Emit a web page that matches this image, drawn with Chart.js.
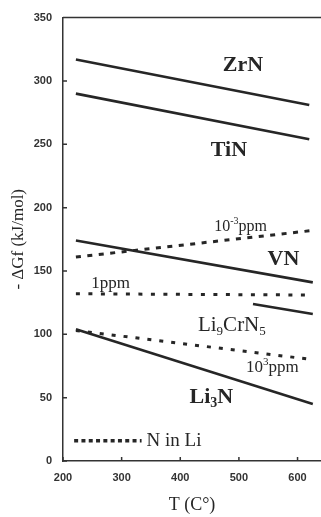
<!DOCTYPE html>
<html>
<head>
<meta charset="utf-8">
<script src="https://cdn.jsdelivr.net/npm/chart.js@4/dist/chart.umd.min.js"></script>
<style>
  html, body { margin: 0; padding: 0; background: #fff; }
  canvas { display: block; }
</style>
</head>
<body>
<canvas id="chart" width="321" height="517"></canvas>
<script>
// temperatures (C) at line ends
const tLong = [222, 626];
const tShort = [222, 620];
const tLi9CrN5 = [524, 626];
const tLegend = [219, 334];

// -dGf values (kJ/mol)
const zrN = [317, 281];
const tiN = [290, 254];
const vN = [174, 141];
const li9CrN5 = [124, 116];
const li3N = [104, 45];
const ppmMinus3 = [161, 182];
const ppm1 = [132, 131];
const ppm1000 = [103, 80];
const legendKey = [16, 16];

const xTicks = [200, 300, 400, 500, 600];
const yTicks = [0, 50, 100, 150, 200, 250, 300, 350];

const ink = "#262626";

function pts(xs, ys) {
  return xs.map((x, i) => ({ x, y: ys[i] }));
}

function solid(xs, ys) {
  return { data: pts(xs, ys), borderColor: ink, borderWidth: 2.6 };
}

function dashed(xs, ys, dash, width) {
  return { data: pts(xs, ys), borderColor: ink, borderWidth: width, borderDash: dash };
}

// text labels: [T, value, parts, size, bold]
const labels = [
  [507, 312, [["ZrN"]], 22, true],
  [483, 245, [["TiN"]], 22, true],
  [576, 159, [["VN"]], 22, true],
  [503, 185, [["10"], ["-3", "sup"], ["ppm"]], 16, false],
  [281, 140, [["1ppm"]], 17, false],
  [488, 107, [["Li"], ["9", "sub"], ["CrN"], ["5", "sub"]], 21, false],
  [557, 74, [["10"], ["3", "sup"], ["ppm"]], 17, false],
  [453, 50, [["Li"], ["3", "sub"], ["N"]], 22, true],
];

function drawRich(ctx, cx, cy, parts, size, bold, align) {
  const w = bold ? "bold " : "";
  const fontFor = (m) => w + (m ? Math.round(size * 0.62) : size) + "px 'Liberation Serif', serif";
  let total = 0;
  parts.forEach(([t, m]) => { ctx.font = fontFor(m); total += ctx.measureText(t).width; });
  let x = align === "left" ? cx : cx - total / 2;
  ctx.textBaseline = "middle";
  ctx.textAlign = "left";
  parts.forEach(([t, m]) => {
    ctx.font = fontFor(m);
    let dy = 0;
    if (m === "sup") dy = -size * 0.32;
    if (m === "sub") dy = size * 0.28;
    ctx.fillText(t, x, cy + dy);
    x += ctx.measureText(t).width;
  });
}

const annotate = {
  id: "annotate",
  afterDraw(chart) {
    const { ctx, chartArea, scales } = chart;
    const sx = scales.x, sy = scales.y;
    ctx.save();
    ctx.fillStyle = ink;
    labels.forEach(([t, v, parts, size, bold]) => {
      drawRich(ctx, sx.getPixelForValue(t), sy.getPixelForValue(v), parts, size, bold);
    });
    drawRich(ctx, sx.getPixelForValue(tLegend[1]) + 5, sy.getPixelForValue(legendKey[0]),
      [["N in Li"]], 19, false, "left");

    // top frame line and inward ticks
    ctx.strokeStyle = "#333";
    ctx.lineWidth = 1.5;
    ctx.beginPath();
    ctx.moveTo(chartArea.left, chartArea.top);
    ctx.lineTo(chartArea.right, chartArea.top);
    xTicks.forEach((v) => {
      const px = sx.getPixelForValue(v);
      ctx.moveTo(px, chartArea.bottom);
      ctx.lineTo(px, chartArea.bottom - 4);
    });
    yTicks.forEach((v) => {
      const py = sy.getPixelForValue(v);
      ctx.moveTo(chartArea.left, py);
      ctx.lineTo(chartArea.left + 4, py);
    });
    ctx.stroke();
    ctx.restore();
  },
};

new Chart(document.getElementById("chart"), {
  type: "scatter",
  data: {
    datasets: [
      solid(tShort, zrN),
      solid(tShort, tiN),
      solid(tLong, vN),
      solid(tLi9CrN5, li9CrN5),
      solid(tLong, li3N),
      dashed(tLong, ppmMinus3, [5, 6.5], 3),
      dashed(tLong, ppm1, [4, 8.5], 3),
      dashed(tLong, ppm1000, [4, 8], 3),
      dashed(tLegend, legendKey, [4, 3.3], 3.5),
    ],
  },
  options: {
    responsive: false,
    animation: false,
    showLine: true,
    elements: { point: { radius: 0 }, line: { tension: 0 } },
    layout: { padding: { top: 14, right: 0, left: 0, bottom: 0 } },
    plugins: { legend: { display: false }, tooltip: { enabled: false } },
    scales: {
      x: {
        type: "linear",
        min: 200,
        max: 640,
        afterFit: (s) => { s.height = 56; },
        afterBuildTicks: (s) => { s.ticks = xTicks.map((value) => ({ value })); },
        grid: { display: false, drawTicks: false },
        border: { display: true, color: "#333", width: 1.5 },
        ticks: { padding: 10, color: "#333", font: { family: "'Liberation Sans', Arial", size: 11, weight: "bold" } },
        title: {
          display: true,
          text: "T (C°)",
          color: ink,
          padding: { top: 0, bottom: 1 },
          font: { family: "'Liberation Serif', serif", size: 18 },
        },
      },
      y: {
        min: 0,
        max: 350,
        afterFit: (s) => { s.width = 63; },
        afterBuildTicks: (s) => { s.ticks = yTicks.map((value) => ({ value })); },
        grid: { display: false, drawTicks: false },
        border: { display: true, color: "#333", width: 1.5 },
        ticks: { padding: 11, color: "#333", font: { family: "'Liberation Sans', Arial", size: 11, weight: "bold" } },
        title: {
          display: true,
          text: "- ΔGf (kJ/mol)",
          color: ink,
          padding: { top: 8, bottom: 0 },
          font: { family: "'Liberation Serif', serif", size: 17 },
        },
      },
    },
  },
  plugins: [annotate],
});
</script>
</body>
</html>
